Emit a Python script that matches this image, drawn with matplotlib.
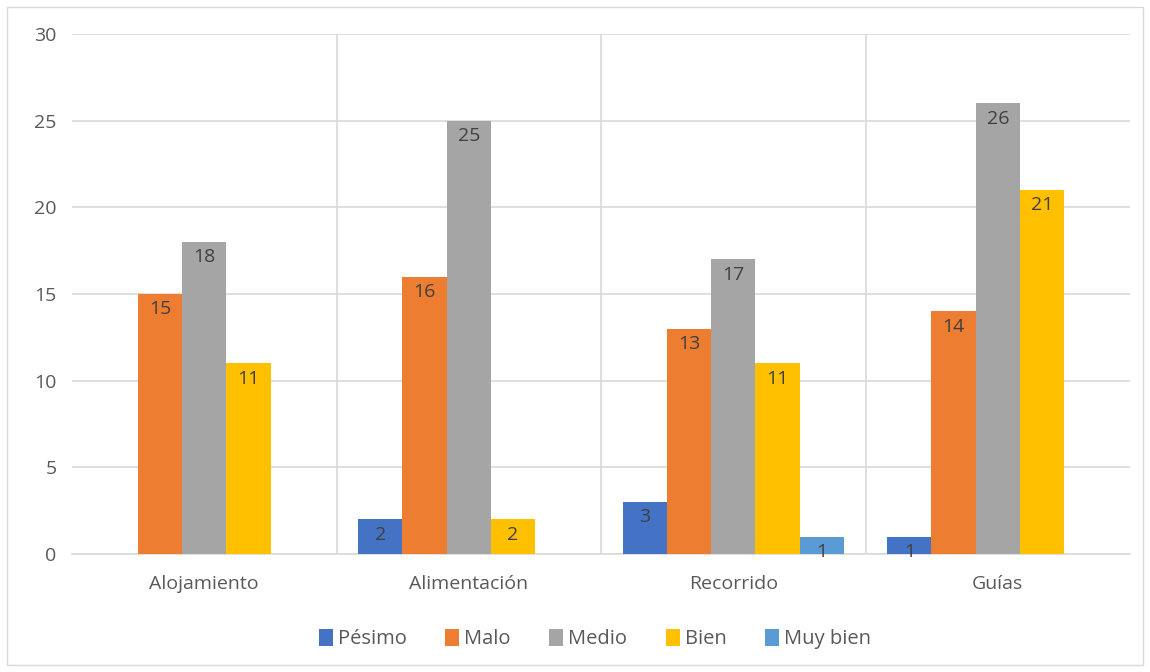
import matplotlib
matplotlib.use("Agg")
import matplotlib.pyplot as plt
from matplotlib.patches import Rectangle
import numpy as np

categories = ["Alojamiento", "Alimentación", "Recorrido", "Guías"]
series_names = ["Pésimo", "Malo", "Medio", "Bien", "Muy bien"]
pesimo = [0, 2, 3, 1]
malo = [15, 16, 13, 14]
medio = [18, 25, 17, 26]
bien = [11, 2, 11, 21]
muy_bien = [0, 0, 1, 0]
colors = ["#4472C4", "#ED7D31", "#A5A5A5", "#FFC000", "#5B9BD5"]

series = [pesimo, malo, medio, bien, muy_bien]

plt.rcParams["font.family"] = ["Open Sans", "DejaVu Sans"]
text_color = "#595959"
grid_color = "#D9D9D9"

fig = plt.figure(figsize=(11.5, 6.72), dpi=100)
ax = fig.add_axes([72 / 1150, 1 - 554 / 672, (1130 - 72) / 1150, (554 - 34) / 672])

n = len(series)
bar_w = 0.167
x = np.arange(len(categories))
for i, (vals, name, col) in enumerate(zip(series, series_names, colors)):
    offs = (i - (n - 1) / 2) * bar_w
    xs = x + offs
    ax.bar(xs, vals, width=bar_w, color=col, label=name, zorder=3)
    for xi, v in zip(xs, vals):
        if v > 0:
            ax.annotate(str(v), (xi, v), xytext=(0, -11), textcoords="offset points",
                        ha="center", va="center", fontsize=14, color="#404040", zorder=4)

ax.set_xlim(-0.5, len(categories) - 0.5)
ax.set_ylim(0, 30)
ax.set_yticks(range(0, 31, 5))
ax.yaxis.grid(True, color=grid_color, linewidth=1.2, zorder=0)
for b in np.arange(0.5, len(categories) - 0.5, 1):
    ax.axvline(b, color=grid_color, linewidth=1.2, zorder=0)
ax.set_xticks(x)
ax.set_xticklabels(categories)
for s in ["top", "right", "left"]:
    ax.spines[s].set_visible(False)
ax.spines["bottom"].set_color(grid_color)
ax.spines["bottom"].set_linewidth(1.2)
ax.tick_params(axis="both", length=0, colors=text_color, labelsize=14)
ax.tick_params(axis="y", pad=11)
ax.tick_params(axis="x", pad=15)

leg = fig.legend(loc="center", bbox_to_anchor=(595 / 1150, 1 - 639 / 672), ncol=5,
                 frameon=False, fontsize=14.5, handlelength=0.7, handleheight=0.9,
                 handletextpad=0.25, columnspacing=1.9)
for t in leg.get_texts():
    t.set_color(text_color)

fig.patches.append(Rectangle((7 / 1150, 7 / 672), 1136 / 1150, 658 / 672,
                             transform=fig.transFigure, fill=False,
                             edgecolor="#D9D9D9", linewidth=1.0))

fig.savefig("out.png", dpi=100, facecolor="white")
